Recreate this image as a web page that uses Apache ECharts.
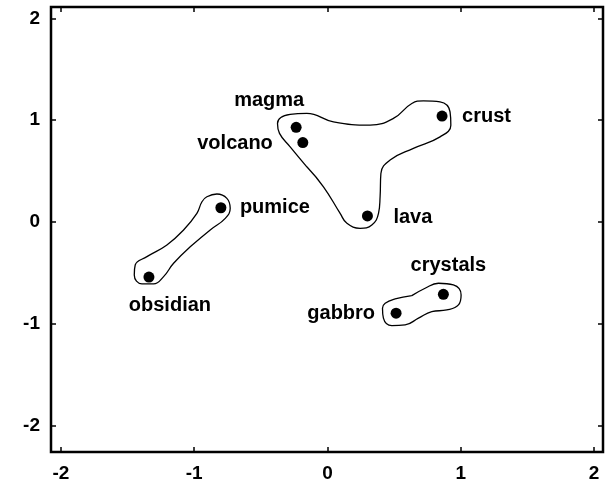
<!DOCTYPE html>
<html>
<head>
<meta charset="utf-8">
<script src="https://cdn.jsdelivr.net/npm/echarts@6/dist/echarts.min.js"></script>
<style>
  html, body { margin: 0; padding: 0; background: #fff; }
  #chart { width: 605px; height: 488px; }
</style>
</head>
<body>
<div id="chart"></div>
<script>
// words and their positions
const words = ['magma', 'volcano', 'crust', 'pumice', 'lava', 'obsidian', 'crystals', 'gabbro'];
const wordX = [-0.235, -0.185, 0.86, -0.80, 0.30, -1.34, 0.87, 0.515];
const wordY = [0.93, 0.78, 1.04, 0.14, 0.06, -0.54, -0.71, -0.895];

const tickValues = [-2, -1, 0, 1, 2];

// hand drawn cluster outlines (x, y), each loop starts on a straight stretch
const outlineVolcX = [-0.155, -0.28, -0.36, -0.375, -0.28, -0.155, 0.045, 0.32, 0.495, 0.633, 0.72, 0.845, 0.92, 0.926, 0.845, 0.645, 0.47, 0.401, 0.395, 0.383, 0.333, 0.245, 0.146, 0.095, -0.03, -0.155];
const outlineVolcY = [0.542, 0.738, 0.87, 0.968, 1.056, 1.066, 0.983, 0.951, 1.017, 1.164, 1.189, 1.179, 1.081, 0.951, 0.836, 0.723, 0.608, 0.477, 0.248, 0.085, -0.029, -0.062, -0.013, 0.085, 0.346, 0.542];

const outlineGlassX = [-1.03, -1.155, -1.23, -1.305, -1.392, -1.45, -1.443, -1.355, -1.205, -1.08, -0.98, -0.942, -0.905, -0.83, -0.755, -0.73, -0.767, -0.88, -1.03];
const outlineGlassY = [-0.242, -0.405, -0.536, -0.608, -0.608, -0.52, -0.422, -0.34, -0.225, -0.078, 0.085, 0.199, 0.248, 0.275, 0.232, 0.134, 0.036, -0.078, -0.242];

const outlineRockX = [0.633, 0.733, 0.833, 0.945, 1.003, 0.983, 0.896, 0.783, 0.683, 0.583, 0.483, 0.42, 0.413, 0.433, 0.508, 0.633];
const outlineRockY = [-0.723, -0.65, -0.601, -0.618, -0.716, -0.814, -0.863, -0.879, -0.944, -1.01, -1.017, -0.944, -0.846, -0.797, -0.755, -0.723];

// label placement relative to each point: [align, dx, dy]
const labelPlace = {
  magma: ['center', -27, -27],
  volcano: ['right', -30, 1],
  crust: ['left', 20, 0],
  pumice: ['left', 19, 0],
  lava: ['left', 26, 2],
  obsidian: ['center', 21, 28],
  crystals: ['center', 5, -29],
  gabbro: ['right', -21, 0]
};

const FONT = '"Liberation Sans", Arial, Helvetica, sans-serif';

function zip(xs, ys) {
  return xs.map((x, i) => [x, ys[i]]);
}

const myChart = echarts.init(document.getElementById('chart'));

const outlineSeries = [
  zip(outlineVolcX, outlineVolcY),
  zip(outlineGlassX, outlineGlassY),
  zip(outlineRockX, outlineRockY)
].map(function(pts) {
  return {
    type: 'line',
    data: pts,
    smooth: 0.45,
    symbol: 'none',
    silent: true,
    lineStyle: { color: '#000', width: 1.3 },
    z: 2
  };
});

const pointData = words.map(function(w, i) {
  const p = labelPlace[w];
  return {
    name: w,
    value: [wordX[i], wordY[i]],
    label: {
      show: true,
      position: 'inside',
      align: p[0],
      verticalAlign: 'middle',
      offset: [p[1], p[2]],
      formatter: '{b}'
    }
  };
});

function tickAxis(pos, showLabel, margin, min, max) {
  return {
    type: 'value',
    min: min,
    max: max,
    position: pos,
    splitLine: { show: false },
    axisLine: { show: false, onZero: false },
    axisTick: { inside: true, length: 5, customValues: tickValues, lineStyle: { color: '#000', width: 1.5 } },
    axisLabel: {
      show: showLabel,
      customValues: tickValues,
      margin: margin,
      color: '#000',
      fontSize: 19,
      fontWeight: 'bold',
      fontFamily: FONT
    }
  };
}

const option = {
  backgroundColor: '#fff',
  animation: false,
  grid: {
    left: 51,
    right: 2,
    top: 7,
    bottom: 36,
    show: true,
    borderColor: '#000',
    borderWidth: 2.5
  },
  xAxis: [
    tickAxis('bottom', true, 12, -2.075, 2.068),
    tickAxis('top', false, 12, -2.075, 2.068)
  ],
  yAxis: [
    tickAxis('left', true, 11, -2.258, 2.111),
    tickAxis('right', false, 11, -2.258, 2.111)
  ],
  series: outlineSeries.concat([
    {
      type: 'scatter',
      data: pointData,
      symbol: 'circle',
      symbolSize: 11,
      itemStyle: { color: '#000', opacity: 1 },
      label: {
        color: '#000',
        fontSize: 20,
        fontWeight: 'bold',
        fontFamily: FONT
      },
      z: 3
    }
  ])
};

myChart.setOption(option);
</script>
</body>
</html>
